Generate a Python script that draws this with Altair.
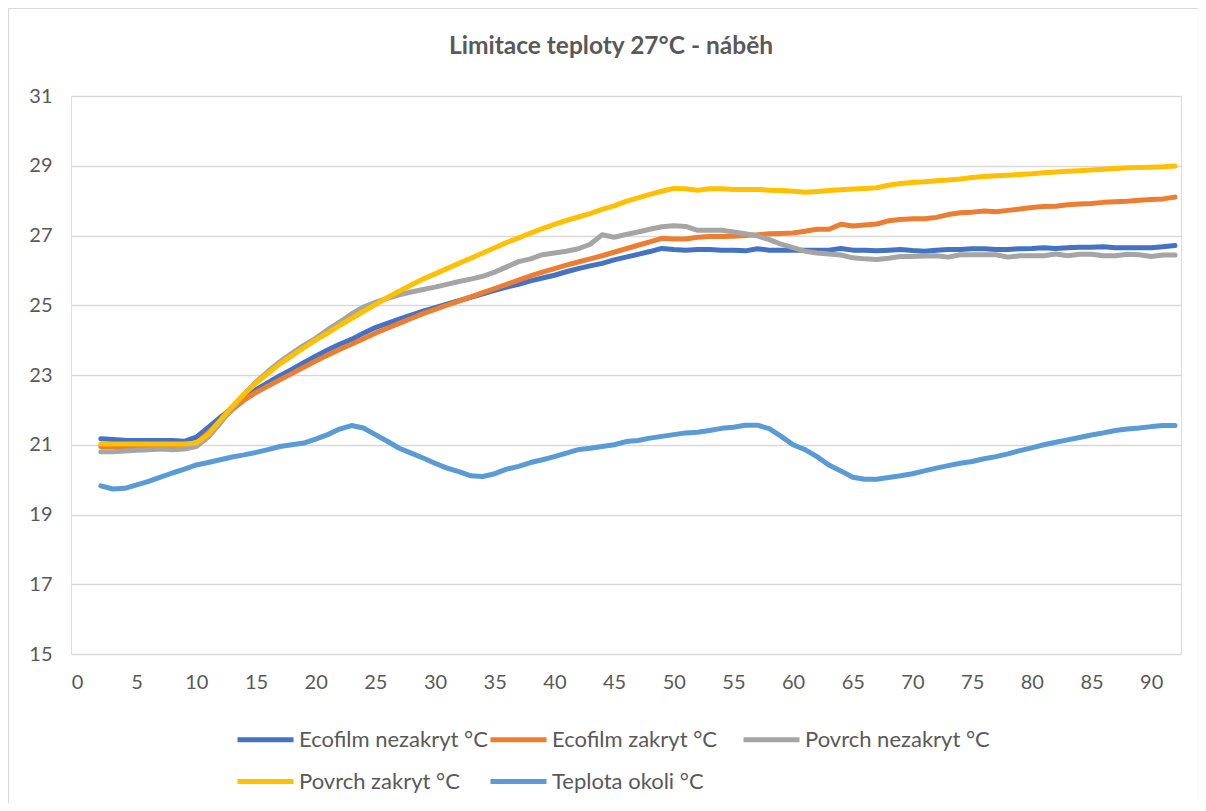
import altair as alt
import pandas as pd

x_vals = list(range(2, 93))

ecofilm_nezakryt = [
    21.17, 21.15, 21.13, 21.12, 21.12, 21.12, 21.12, 21.10, 21.22, 21.50,
    21.78, 22.05, 22.32, 22.58, 22.78, 22.98, 23.16, 23.35, 23.54, 23.72,
    23.88, 24.02, 24.20, 24.36, 24.48, 24.60, 24.72, 24.83, 24.93, 25.03,
    25.13, 25.23, 25.33, 25.43, 25.52, 25.60, 25.70, 25.78, 25.86, 25.96,
    26.05, 26.13, 26.20, 26.30, 26.38, 26.46, 26.54, 26.63, 26.60, 26.58,
    26.60, 26.60, 26.58, 26.58, 26.56, 26.62, 26.58, 26.58, 26.58, 26.58,
    26.58, 26.58, 26.63, 26.58, 26.58, 26.56, 26.58, 26.60, 26.57, 26.55,
    26.58, 26.60, 26.60, 26.62, 26.62, 26.60, 26.60, 26.62, 26.63, 26.65,
    26.63, 26.65, 26.66, 26.66, 26.68, 26.65, 26.65, 26.65, 26.65, 26.68,
    26.71,
]

ecofilm_zakryt = [
    20.95, 20.95, 20.95, 20.96, 20.96, 20.97, 20.97, 20.97, 21.05, 21.35,
    21.68, 22.00, 22.28, 22.50, 22.68, 22.86, 23.04, 23.22, 23.40, 23.57,
    23.73, 23.88, 24.04, 24.20, 24.34, 24.48, 24.62, 24.76, 24.88, 25.00,
    25.12, 25.24, 25.36, 25.48, 25.60, 25.72, 25.84, 25.95, 26.05, 26.15,
    26.24, 26.33, 26.42, 26.52, 26.62, 26.72, 26.82, 26.92, 26.90, 26.90,
    26.95, 26.97, 26.97, 26.98, 27.00, 27.02, 27.05, 27.06, 27.07, 27.12,
    27.18, 27.18, 27.32, 27.27, 27.30, 27.33, 27.42, 27.46, 27.48, 27.48,
    27.52, 27.60, 27.65, 27.67, 27.70, 27.68, 27.72, 27.76, 27.80, 27.83,
    27.84, 27.88, 27.90, 27.92, 27.95, 27.97, 27.98, 28.01, 28.03, 28.05,
    28.10,
]

povrch_nezakryt = [
    20.80, 20.80, 20.82, 20.84, 20.86, 20.88, 20.86, 20.88, 20.95, 21.22,
    21.62, 22.05, 22.45, 22.80, 23.10, 23.38, 23.62, 23.85, 24.05, 24.30,
    24.52, 24.75, 24.95, 25.08, 25.20, 25.30, 25.38, 25.45, 25.52, 25.60,
    25.68, 25.75, 25.83, 25.95, 26.10, 26.25, 26.33, 26.45, 26.50, 26.55,
    26.62, 26.75, 27.02, 26.95, 27.03, 27.10, 27.18, 27.25, 27.28, 27.26,
    27.15, 27.15, 27.15, 27.10, 27.05, 26.99, 26.88, 26.75, 26.65, 26.55,
    26.50, 26.47, 26.44, 26.36, 26.33, 26.31, 26.35, 26.40, 26.40, 26.41,
    26.42, 26.38, 26.45, 26.45, 26.45, 26.45, 26.38, 26.42, 26.42, 26.42,
    26.47, 26.42, 26.46, 26.46, 26.42, 26.42, 26.46, 26.45, 26.40, 26.44,
    26.44,
]

povrch_zakryt = [
    21.02, 21.02, 21.02, 21.02, 21.02, 21.02, 21.02, 21.02, 21.05, 21.30,
    21.70, 22.10, 22.45, 22.77, 23.05, 23.32, 23.55, 23.78, 24.00, 24.20,
    24.42, 24.62, 24.82, 25.02, 25.22, 25.40, 25.58, 25.75, 25.90, 26.05,
    26.20, 26.35, 26.50, 26.65, 26.80, 26.93, 27.07, 27.20, 27.32, 27.43,
    27.53, 27.63, 27.75, 27.85, 27.98, 28.08, 28.18, 28.27, 28.35, 28.34,
    28.30, 28.34, 28.34, 28.32, 28.32, 28.32, 28.30, 28.29, 28.27, 28.24,
    28.26, 28.29, 28.31, 28.33, 28.35, 28.37, 28.44, 28.49, 28.52, 28.54,
    28.57, 28.59, 28.62, 28.66, 28.69, 28.71, 28.73, 28.75, 28.77, 28.80,
    28.82, 28.84, 28.86, 28.88, 28.90, 28.92, 28.94, 28.95, 28.96, 28.97,
    28.99,
]

teplota_okoli = [
    19.82, 19.73, 19.75, 19.85, 19.95, 20.07, 20.19, 20.30, 20.42, 20.49,
    20.57, 20.65, 20.71, 20.78, 20.86, 20.95, 21.00, 21.05, 21.16, 21.29,
    21.45, 21.55, 21.48, 21.29, 21.10, 20.90, 20.76, 20.62, 20.47, 20.33,
    20.23, 20.11, 20.09, 20.17, 20.30, 20.38, 20.49, 20.57, 20.66, 20.76,
    20.86, 20.90, 20.95, 21.00, 21.09, 21.12, 21.19, 21.24, 21.29, 21.34,
    21.36, 21.41, 21.47, 21.50, 21.56, 21.56, 21.46, 21.24, 21.00, 20.86,
    20.66, 20.42, 20.25, 20.07, 20.01, 20.01, 20.06, 20.11, 20.17, 20.25,
    20.33, 20.40, 20.47, 20.52, 20.60, 20.66, 20.74, 20.83, 20.91, 21.00,
    21.07, 21.14, 21.21, 21.28, 21.34, 21.41, 21.45, 21.48, 21.52, 21.55,
    21.55,
]

series_names = [
    "Ecofilm nezakryt °C",
    "Ecofilm zakryt °C",
    "Povrch nezakryt °C",
    "Povrch zakryt °C",
    "Teplota okoli °C",
]
series_colors = ["#4472C4", "#ED7D31", "#A5A5A5", "#FFC000", "#5B9BD5"]
x_ticks = list(range(0, 91, 5))
y_ticks = list(range(15, 32, 2))

rows = []
for name, vals in zip(series_names, [ecofilm_nezakryt, ecofilm_zakryt, povrch_nezakryt, povrch_zakryt, teplota_okoli]):
    for xv, yv in zip(x_vals, vals):
        rows.append({"x": xv, "value": yv, "series": name})
df = pd.DataFrame(rows)

FONT = "Lato"
TXT = "#595959"
GRID = "#D9D9D9"

lines = alt.Chart(df).mark_line(strokeWidth=5, strokeCap="round", strokeJoin="round").encode(
    x=alt.X("x:Q",
            scale=alt.Scale(domain=[-0.5, 92.5], nice=False, zero=False),
            axis=alt.Axis(values=x_ticks, title=None, grid=False, ticks=False, domain=False,
                          labelFont=FONT, labelFontSize=20, labelColor=TXT, labelPadding=18,
                          labelFlush=False)),
    y=alt.Y("value:Q",
            scale=alt.Scale(domain=[15, 31], nice=False, zero=False),
            axis=alt.Axis(values=y_ticks, title=None, grid=True, gridColor=GRID, gridWidth=1.5,
                          ticks=False, domain=False, labelFont=FONT, labelFontSize=20,
                          labelColor=TXT, labelPadding=19)),
    color=alt.Color("series:N",
                    scale=alt.Scale(domain=series_names, range=series_colors),
                    legend=alt.Legend(title=None, orient="none", legendX=164, legendY=613,
                                      direction="horizontal", columns=3, gridAlign="all",
                                      symbolType="stroke", symbolSize=3136, symbolStrokeWidth=5,
                                      labelFont=FONT, labelFontSize=22, labelColor=TXT,
                                      labelOffset=3, columnPadding=-16, rowPadding=-11,
                                      labelLimit=400, padding=0)),
)

border = alt.Chart(pd.DataFrame({"b": [0]})).mark_rect(
    fill=None, stroke=GRID, strokeWidth=1.2, clip=False
).encode(
    x=alt.value(-62.5), x2=alt.value(1127.5), y=alt.value(-87.5), y2=alt.value(710)
)

chart = alt.layer(border, lines).properties(
    width=1110,
    height=558,
    title=alt.TitleParams("Limitace teploty 27°C - náběh", font=FONT, fontSize=24.5,
                          fontWeight="bold", color=TXT, anchor="middle", dx=-15, dy=52, offset=0),
    autosize=alt.AutoSizeParams(type="none"),
    padding={"left": 63, "top": 88, "right": 17, "bottom": 149},
).configure_view(stroke=None).configure(background="white")

chart.save("out.html", embed_options={"renderer": "svg", "actions": False})
